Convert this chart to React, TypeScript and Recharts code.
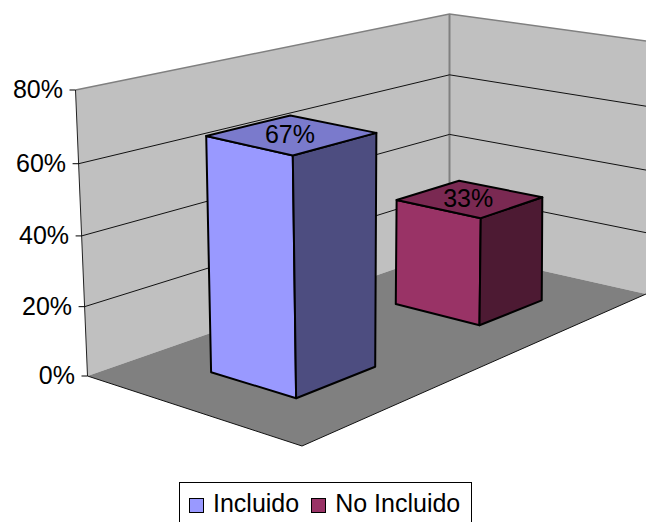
import { BarChart, Bar, XAxis, YAxis, Legend } from 'recharts';

const categories = ['Incluido', 'No Incluido'];
const incluidoValues = [67, null];
const noIncluidoValues = [null, 33];
const yTicks = [0, 20, 40, 60, 80];

const rows = categories.map((category, i) => ({
  category,
  Incluido: incluidoValues[i],
  'No Incluido': noIncluidoValues[i],
}));

const WIDTH = 646;
const HEIGHT = 522;
const PLOT_LEFT = 88;
const PLOT_TOP = 90;
const PLOT_BOTTOM = 376;
const PLOT_H = PLOT_BOTTOM - PLOT_TOP;
const Y_MAX = yTicks[yTicks.length - 1];
const FONT = '"Liberation Sans", Arial, sans-serif';

type Pt = [number, number];

// unit square -> screen quad, corners in order (0,0) (1,0) (1,1) (0,1)
const makeHomography = (p0: Pt, p1: Pt, p2: Pt, p3: Pt) => {
  const dx1 = p1[0] - p2[0];
  const dx2 = p3[0] - p2[0];
  const sx = p0[0] - p1[0] + p2[0] - p3[0];
  const dy1 = p1[1] - p2[1];
  const dy2 = p3[1] - p2[1];
  const sy = p0[1] - p1[1] + p2[1] - p3[1];
  const det = dx1 * dy2 - dx2 * dy1;
  const g = (sx * dy2 - dx2 * sy) / det;
  const h = (dx1 * sy - sx * dy1) / det;
  const a = p1[0] - p0[0] + g * p1[0];
  const b = p3[0] - p0[0] + h * p3[0];
  const d = p1[1] - p0[1] + g * p1[1];
  const e = p3[1] - p0[1] + h * p3[1];
  return (u: number, v: number): Pt => {
    const w = g * u + h * v + 1;
    return [(a * u + b * v + p0[0]) / w, (d * u + e * v + p0[1]) / w];
  };
};

const floor = makeHomography([87.5, 376], [449.5, 250], [646, 294], [302, 446]);
const ceiling = makeHomography([75.5, 90], [449.5, 14], [646, 41], [295, 141]);

// slight foreshortening of the vertical axis
const heightFrac = (t: number) => (t * 0.96) / (1 - 0.04 * t);

const project = (u: number, v: number, t: number): Pt => {
  const f = floor(u, v);
  const c = ceiling(u, v);
  const k = heightFrac(t);
  return [f[0] + (c[0] - f[0]) * k, f[1] + (c[1] - f[1]) * k];
};

const toPoints = (pts: Pt[]) => pts.map((p) => p.join(',')).join(' ');

const shade = (hex: string, k: number) => {
  const n = parseInt(hex.slice(1), 16);
  const c = (s: number) => Math.round(((n >> s) & 255) * k);
  return `rgb(${c(16)},${c(8)},${c(0)})`;
};

// walls, floor and the gridlines that run round both walls
const Walls = () => {
  const left = [project(0, 0, 0), project(1, 0, 0), project(1, 0, 1), project(0, 0, 1)];
  const right = [project(1, 0, 0), project(1, 1, 0), project(1, 1, 1), project(1, 0, 1)];
  const floorPts = [floor(0, 0), floor(1, 0), floor(1, 1), floor(0, 1)];
  const inner = yTicks.slice(1, -1);
  return (
    <g>
      <polygon points={toPoints(left)} fill="#c0c0c0" />
      <polygon points={toPoints(right)} fill="#c0c0c0" />
      <polygon points={toPoints(floorPts)} fill="#808080" />
      <polyline points={toPoints([floor(0, 0), floor(0, 1), floor(1, 1)])} fill="none" stroke="#111" strokeWidth={1} />
      <polyline points={toPoints([project(0, 0, 1), project(1, 0, 1), project(1, 1, 1)])} fill="none" stroke="#808080" strokeWidth={1.5} />
      <line x1={project(1, 0, 0)[0]} y1={project(1, 0, 0)[1]} x2={project(1, 0, 1)[0]} y2={project(1, 0, 1)[1]} stroke="#808080" strokeWidth={2} />
      <line x1={project(0, 0, 0)[0]} y1={project(0, 0, 0)[1]} x2={project(0, 0, 1)[0]} y2={project(0, 0, 1)[1]} stroke="#222" strokeWidth={1} />
      {inner.map((tick) => (
        <polyline
          key={tick}
          points={toPoints([project(0, 0, tick / Y_MAX), project(1, 0, tick / Y_MAX), project(1, 1, tick / Y_MAX)])}
          fill="none"
          stroke="#111"
          strokeWidth={1}
        />
      ))}
    </g>
  );
};

const WallTick = ({ y, payload }: any) => {
  const t = (PLOT_BOTTOM - y) / PLOT_H;
  const a = project(0, 0, t);
  return (
    <g>
      <line x1={a[0] - 6} y1={a[1]} x2={a[0]} y2={a[1]} stroke="#000" strokeWidth={1} />
      <text x={a[0] - 12.5} y={a[1] + 8} textAnchor="end" fontFamily={FONT} fontSize={25} fill="#000">
        {`${payload.value}%`}
      </text>
    </g>
  );
};

const PLOT_WIDTH = WIDTH - PLOT_LEFT;

// depth of the bar's footprint, drifts a little along the floor
const nearDepth = (u: number) => 0.301 + 0.01 * u;
const farDepth = (u: number) => 0.699 + 0.03 * u;

const Prism = ({ x, width, height, fill, value }: any) => {
  if (!height || height <= 0) return null;
  const u0 = ((x - PLOT_LEFT) / PLOT_WIDTH) * 0.985 - 0.003;
  const u1 = ((x + width - PLOT_LEFT) / PLOT_WIDTH) * 0.985 - 0.003;
  const t = height / PLOT_H;
  const n0 = nearDepth(u0);
  const n1 = nearDepth(u1);
  const f0 = farDepth(u0);
  const f1 = farDepth(u1);
  const leftFace = [project(u0, n0, 0), project(u0, f0, 0), project(u0, f0, t), project(u0, n0, t)];
  const sideFace = [project(u0, f0, 0), project(u1, f1, 0), project(u1, f1, t), project(u0, f0, t)];
  const topFace = [project(u0, n0, t), project(u0, f0, t), project(u1, f1, t), project(u1, n1, t)];
  const cx = topFace.reduce((s, p) => s + p[0], 0) / 4;
  const cy = topFace.reduce((s, p) => s + p[1], 0) / 4;
  const shown = Array.isArray(value) ? value[1] - value[0] : value;
  return (
    <g stroke="#000" strokeWidth={2} strokeLinejoin="round">
      <polygon points={toPoints(leftFace)} fill={fill} />
      <polygon points={toPoints(sideFace)} fill={shade(fill, 0.5)} />
      <polygon points={toPoints(topFace)} fill={shade(fill, 0.8)} />
      <text x={cx - 1.5} y={cy + 8} textAnchor="middle" fontFamily={FONT} fontSize={25} fill="#000" stroke="none">
        {`${shown}%`}
      </text>
    </g>
  );
};

const LegendBox = ({ payload }: any) => (
  <div
    style={{
      boxSizing: 'border-box',
      width: 293,
      height: 45,
      border: '1px solid #000',
      background: '#fff',
      display: 'flex',
      alignItems: 'flex-start',
      padding: '8px 0 0 9px',
      fontFamily: FONT,
      fontSize: 25,
      lineHeight: 1,
      color: '#000',
      whiteSpace: 'nowrap',
    }}
  >
    {(payload || []).map((item: any) => (
      <span key={item.value} style={{ display: 'flex', alignItems: 'flex-start', marginRight: 12 }}>
        <span style={{ boxSizing: 'border-box', width: 15, height: 15, marginTop: 7, marginRight: 9, background: item.color, border: '1.5px solid #000' }} />
        {item.value}
      </span>
    ))}
  </div>
);

export default function App() {
  return (
    <div style={{ position: 'absolute', left: 0, top: 0, width: WIDTH, height: HEIGHT, overflow: 'hidden' }}>
      <BarChart
        width={WIDTH}
        height={HEIGHT}
        data={rows}
        barCategoryGap="30%"
        margin={{ top: PLOT_TOP, right: 0, bottom: HEIGHT - PLOT_BOTTOM, left: 0 }}
      >
        <Walls />
        <XAxis dataKey="category" hide />
        <YAxis
          width={PLOT_LEFT}
          domain={[0, Y_MAX]}
          ticks={yTicks}
          axisLine={false}
          tickLine={false}
          interval={0}
          tick={WallTick}
        />
        <Bar dataKey="Incluido" name="Incluido" stackId="a" fill="#9999ff" shape={Prism} isAnimationActive={false} />
        <Bar dataKey="No Incluido" name="No Incluido" stackId="a" fill="#993366" shape={Prism} isAnimationActive={false} />
        <Legend
          verticalAlign="middle"
          align="center"
          layout="horizontal"
          content={LegendBox}
          wrapperStyle={{ position: 'absolute', left: 179, top: 482, width: 293, height: 45 }}
        />
      </BarChart>
    </div>
  );
}
